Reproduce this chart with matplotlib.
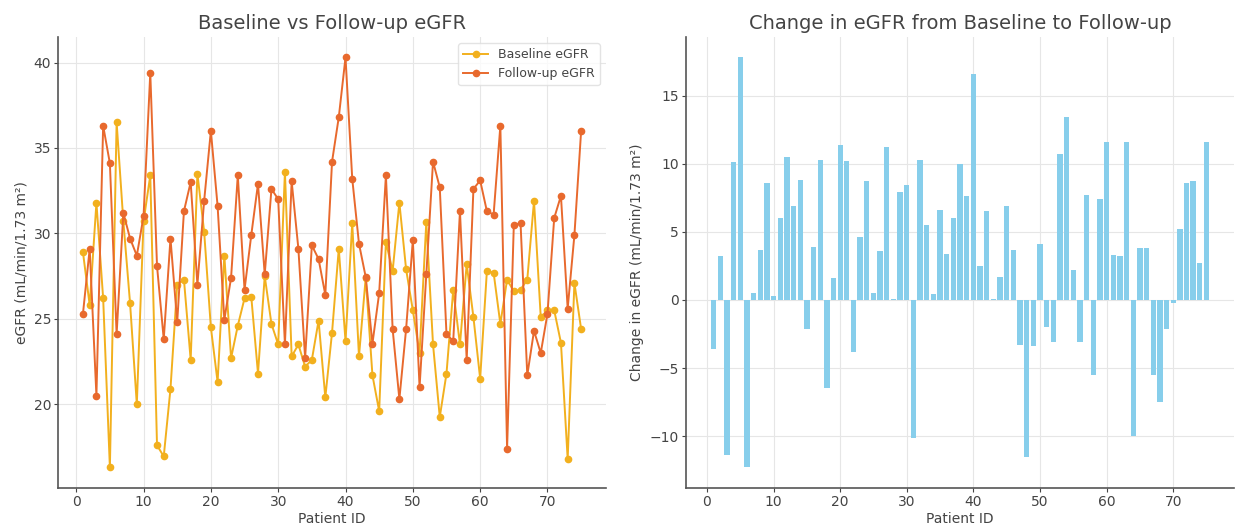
import matplotlib
matplotlib.use("Agg")
import matplotlib.pyplot as plt
import numpy as np

patient_ids = list(range(1, 76))

baseline_egfr = [28.9, 25.8, 31.8, 26.2, 16.3, 36.5, 30.7, 25.9, 20.0, 30.7,
                 33.4, 17.6, 16.95, 20.9, 27.0, 27.3, 22.6, 33.5, 30.1, 24.5,
                 21.3, 28.7, 22.7, 24.6, 26.2, 26.3, 21.8, 27.5, 24.7, 23.5,
                 33.6, 22.8, 23.5, 22.2, 22.6, 24.9, 20.4, 24.2, 29.1, 23.7,
                 30.6, 22.8, 27.4, 21.7, 19.6, 29.5, 27.8, 31.8, 27.9, 25.5,
                 23.0, 30.65, 23.5, 19.25, 21.8, 26.7, 23.5, 28.2, 25.1, 21.5,
                 27.8, 27.7, 24.7, 27.3, 26.6, 26.7, 27.3, 31.9, 25.1, 25.5,
                 25.5, 23.6, 16.8, 27.1, 24.4]

followup_egfr = [25.3, 29.1, 20.5, 36.3, 34.1, 24.1, 31.2, 29.7, 28.7, 31.0,
                 39.4, 28.1, 23.8, 29.7, 24.8, 31.3, 33.0, 27.0, 31.9, 36.0,
                 31.6, 24.95, 27.4, 33.4, 26.7, 29.9, 32.9, 27.6, 32.6, 32.0,
                 23.5, 33.05, 29.1, 22.7, 29.3, 28.5, 26.4, 34.2, 36.8, 40.3,
                 33.2, 29.4, 27.45, 23.55, 26.5, 33.4, 24.4, 20.3, 24.4, 29.6,
                 21.0, 27.6, 34.2, 32.7, 24.1, 23.7, 31.3, 22.6, 32.6, 33.1,
                 31.3, 31.1, 36.3, 17.4, 30.5, 30.6, 21.7, 24.3, 23.0, 25.3,
                 30.9, 32.2, 25.6, 29.9, 36.0]

egfr_change = [-3.6, 3.2, -11.4, 10.1, 17.8, -12.3, 0.5, 3.7, 8.6, 0.3,
               6.0, 10.5, 6.9, 8.8, -2.1, 3.9, 10.3, -6.5, 1.6, 11.4,
               10.2, -3.8, 4.6, 8.7, 0.5, 3.6, 11.2, 0.1, 7.9, 8.4,
               -10.1, 10.3, 5.5, 0.4, 6.6, 3.4, 6.0, 10.0, 7.6, 16.6,
               2.5, 6.5, 0.05, 1.7, 6.9, 3.7, -3.3, -11.5, -3.4, 4.1,
               -2.0, -3.1, 10.7, 13.4, 2.2, -3.1, 7.7, -5.5, 7.4, 11.6,
               3.3, 3.2, 11.6, -10.0, 3.8, 3.8, -5.5, -7.5, -2.1, -0.2,
               5.2, 8.6, 8.7, 2.7, 11.6]

txt = "#444444"
plt.rcParams.update({
    "font.family": ["DejaVu Sans"],
    "text.color": txt,
    "axes.labelcolor": txt,
    "xtick.color": txt,
    "ytick.color": txt,
    "axes.edgecolor": "#555555",
})

fig, (ax1, ax2) = plt.subplots(1, 2, figsize=(12.43, 5.27), dpi=100)
fig.subplots_adjust(left=0.0467, right=0.9928, bottom=0.074, top=0.93, wspace=0.146)

ax1.plot(patient_ids, baseline_egfr, marker="o", markersize=4.5, linewidth=1.4,
         color="#F2B01E", label="Baseline eGFR")
ax1.plot(patient_ids, followup_egfr, marker="o", markersize=4.5, linewidth=1.4,
         color="#E8692D", label="Follow-up eGFR")
ax1.set_title("Baseline vs Follow-up eGFR", fontsize=14, color=txt)
ax1.set_xlabel("Patient ID", fontsize=10, labelpad=2)
ax1.set_ylabel("eGFR (mL/min/1.73 m²)", fontsize=10)
leg = ax1.legend(loc="upper right", fontsize=9, frameon=True)
leg.get_frame().set_edgecolor("#dddddd")

ax2.bar(patient_ids, egfr_change, color="skyblue")
ax2.set_title("Change in eGFR from Baseline to Follow-up", fontsize=14, color=txt)
ax2.set_xlabel("Patient ID", fontsize=10, labelpad=2)
ax2.set_ylabel("Change in eGFR (mL/min/1.73 m²)", fontsize=10)

for ax in (ax1, ax2):
    ax.grid(True, color="#e6e6e6", linewidth=0.8)
    ax.set_axisbelow(True)
    ax.spines["top"].set_visible(False)
    ax.spines["right"].set_visible(False)
    ax.spines["left"].set_linewidth(1.2)
    ax.spines["bottom"].set_linewidth(1.2)
    ax.tick_params(labelsize=10, length=3, width=0.8, pad=2)
    ax.set_xticks([0, 10, 20, 30, 40, 50, 60, 70])

fig.savefig("out.png", dpi=100)
